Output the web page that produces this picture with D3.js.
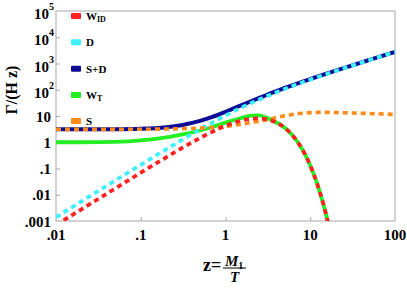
<!DOCTYPE html>
<html>
<head>
<meta charset="utf-8">
<script src="https://cdn.jsdelivr.net/npm/d3@7"></script>
<style>
  body { margin: 0; background: #fff; }
  text { font-family: "Liberation Serif", "Times New Roman", serif; font-weight: bold; }
</style>
</head>
<body>
<svg id="chart" width="407" height="289"></svg>
<script>
var zValues = [0.01, 0.02, 0.05, 0.1, 0.2, 0.3, 0.5, 0.7, 1, 1.5, 2, 2.5, 3, 3.5, 4, 5, 6, 7, 8, 10, 12, 14, 16, 17, 20, 30, 50, 100];

var wID   = [0.0007, 0.0028, 0.0174, 0.069, 0.268, 0.578, 1.45, 2.52, 4.21, 6.55, 7.83, 8.08, 7.59, 6.67, 5.59, 3.54, 2.03, 1.09, 0.557, 0.1305, 0.0277, 0.0055, 0.00104, 0.00044, null, null, null, null];
var dRate = [0.0014, 0.0056, 0.035, 0.138, 0.54, 1.18, 3.07, 5.62, 10.4, 20.0, 30.9, 42.6, 54.8, 67.5, 80.3, 106.7, 133.4, 160.5, 187.8, 242.8, 298, 354, 409, 437, 521, 800, 1359, 2758];
var sPlusD = [3.10, 3.11, 3.14, 3.26, 3.74, 4.46, 6.52, 9.27, 14.4, 24.8, 36.5, 48.9, 61.8, 75.4, 89.1, 116.9, 144.7, 172.7, 200.6, 256.2, 311.7, 367.8, 422.8, 450.8, 534.6, 813.1, 1371, 2770];
var wT    = [1.0, 1.0, 1.04, 1.18, 1.55, 1.95, 2.8, 3.8, 5.6, 8.2, 10.3, 10.5, 8.8, 7.0, 5.65, 3.55, 2.03, 1.09, 0.557, 0.1305, 0.0277, 0.0055, 0.00104, 0.00044, null, null, null, null];
var sRate = [3.1, 3.1, 3.1, 3.12, 3.2, 3.28, 3.45, 3.65, 4.0, 4.8, 5.6, 6.3, 7.0, 7.9, 8.8, 10.2, 11.3, 12.2, 12.8, 13.4, 13.7, 13.8, 13.8, 13.8, 13.6, 13.1, 12.4, 11.5];

var xTicks = [0.01, 0.1, 1, 10, 100];
var xTickLabels = [".01", ".1", "1", "10", "100"];
var yTicks = [1e5, 1e4, 1e3, 1e2, 10, 1, 0.1, 0.01, 0.001];
var yTickBase = ["10", "10", "10", "10", "10", "1", ".1", ".01", ".001"];
var yTickSup = ["5", "4", "3", "2", "", "", "", "", ""];

var legendLabels = [["W", "ID"], ["D", ""], ["S+D", ""], ["W", "T"], ["S", ""]];
var legendColors = ["#ff2121", "#3ff0ff", "#0c0c96", "#22ee22", "#ff8a1c"];

var svg = d3.select('#chart');
var plotLeft = 56, plotRight = 395, plotTop = 11, plotBottom = 221;

var x = d3.scaleLog().domain([0.01, 100]).range([plotLeft, plotRight]);
var y = d3.scaleLog().domain([0.001, 1e5]).range([plotBottom, plotTop]);

svg.append('defs').append('clipPath').attr('id', 'plotclip')
  .append('rect').attr('x', plotLeft).attr('y', plotTop)
  .attr('width', plotRight - plotLeft).attr('height', plotBottom - plotTop);

// frame
svg.append('rect').attr('x', plotLeft).attr('y', plotTop)
  .attr('width', plotRight - plotLeft).attr('height', plotBottom - plotTop)
  .attr('fill', 'none').attr('stroke', '#a8a8a8').attr('stroke-width', 1);

var xAxis = d3.axisBottom(x).tickValues(xTicks.slice(1, 4)).tickSize(-4).tickFormat('');
svg.append('g').attr('transform', 'translate(0,' + plotBottom + ')').call(xAxis)
  .call(function(g) {
    g.select('.domain').remove();
    g.selectAll('line').attr('stroke', '#a8a8a8');
  });

var yAxis = d3.axisLeft(y).tickValues(yTicks.slice(1, 8)).tickSize(-4).tickFormat('');
svg.append('g').attr('transform', 'translate(' + plotLeft + ',0)').call(yAxis)
  .call(function(g) {
    g.select('.domain').remove();
    g.selectAll('line').attr('stroke', '#a8a8a8');
  });

// x tick labels
svg.selectAll('.xlab').data(xTicks).enter().append('text')
  .attr('class', 'xlab')
  .attr('x', function(d) { return x(d); })
  .attr('y', 240)
  .attr('text-anchor', 'middle')
  .attr('font-size', 15)
  .text(function(d, i) { return xTickLabels[i]; });

// y tick labels
yTicks.forEach(function(d, i) {
  var t = svg.append('text')
    .attr('text-anchor', 'end')
    .attr('font-size', 15);
  if (yTickSup[i]) {
    t.attr('x', 54).attr('y', y(d) + 8);
    t.append('tspan').text(yTickBase[i]);
    t.append('tspan').attr('font-size', 10).attr('dy', -9).text(yTickSup[i]);
  } else {
    t.attr('x', 51).attr('y', y(d) + 5.5).text(yTickBase[i]);
  }
});

// axis titles
svg.append('text')
  .attr('transform', 'translate(17,90) rotate(-90)')
  .attr('text-anchor', 'middle')
  .attr('font-size', 16)
  .text('Γ/(H z)');

svg.append('text').attr('x', 203).attr('y', 271).attr('font-size', 18).text('z=');
var num = svg.append('text').attr('x', 225).attr('y', 265.5)
  .attr('font-size', 15).attr('font-style', 'italic');
num.append('tspan').text('M');
num.append('tspan').attr('font-size', 10).attr('font-style', 'normal').attr('dy', 3).text('1');
svg.append('line').attr('x1', 223).attr('x2', 246).attr('y1', 268).attr('y2', 268)
  .attr('stroke', '#000').attr('stroke-width', 1);
svg.append('text').attr('x', 234.5).attr('y', 282).attr('text-anchor', 'middle')
  .attr('font-size', 15).attr('font-style', 'italic').text('T');

// curves
var curves = svg.append('g').attr('clip-path', 'url(#plotclip)');

function drawSeries(values, color, width, dashed) {
  var pts = zValues.map(function(z, i) { return [z, values[i]]; });
  var line = d3.line()
    .defined(function(p) { return p[1] != null; })
    .x(function(p) { return x(p[0]); })
    .y(function(p) { return y(p[1]); })
    .curve(d3.curveMonotoneX);
  curves.append('path').datum(pts)
    .attr('d', line)
    .attr('fill', 'none')
    .attr('stroke', color)
    .attr('stroke-width', width)
    .attr('stroke-dasharray', dashed ? '5,4' : null);
}

drawSeries(sPlusD, legendColors[2], 4, false);
drawSeries(wT, legendColors[3], 3.8, false);
drawSeries(dRate, legendColors[1], 3.8, true);
drawSeries(sRate, legendColors[4], 3.6, true);
drawSeries(wID, legendColors[0], 3.8, true);

// legend
var legendY = [16, 42.3, 68.7, 95, 121];
legendLabels.forEach(function(lab, i) {
  svg.append('rect')
    .attr('x', 71).attr('y', legendY[i] - 3)
    .attr('width', 10).attr('height', 6)
    .attr('rx', 1)
    .attr('fill', legendColors[i]);
  var t = svg.append('text')
    .attr('x', 86).attr('y', legendY[i] + 4)
    .attr('font-size', 11);
  t.append('tspan').text(lab[0]);
  if (lab[1]) {
    t.append('tspan').attr('font-size', 8).attr('dy', 2).text(lab[1]);
  }
});
</script>
</body>
</html>
